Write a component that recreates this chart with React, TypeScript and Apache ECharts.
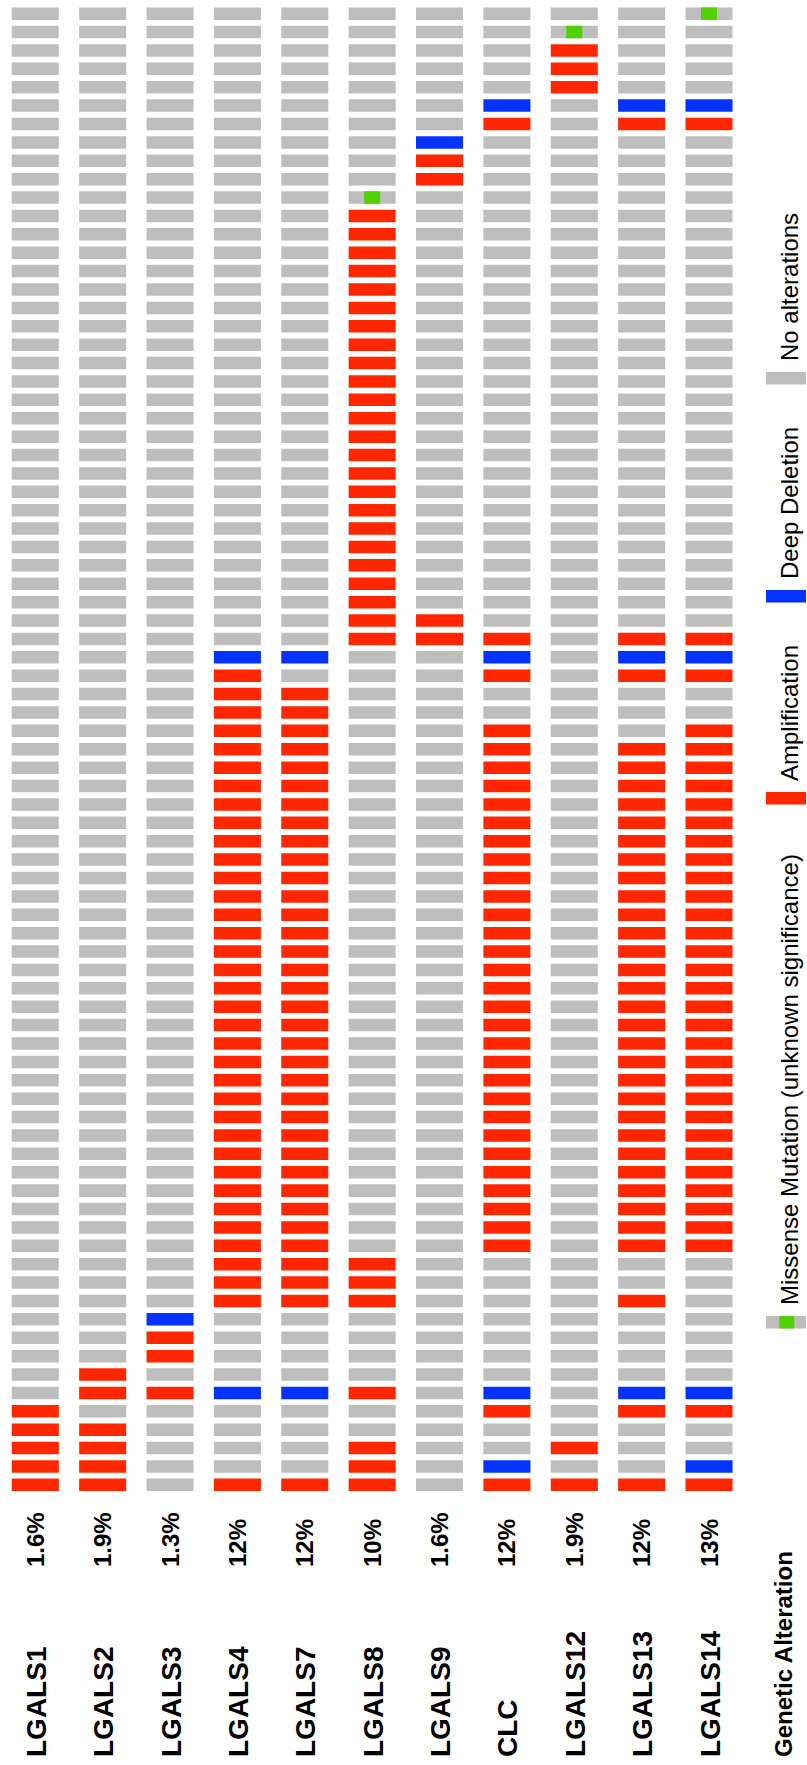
import React, { useEffect, useRef } from "react";
import * as echarts from "echarts";

// Genes (columns, left to right) and their altered-sample percentages
const genes = ["LGALS1", "LGALS2", "LGALS3", "LGALS4", "LGALS7", "LGALS8", "LGALS9", "CLC", "LGALS12", "LGALS13", "LGALS14"];
const alteredPct = ["1.6%", "1.9%", "1.3%", "12%", "12%", "10%", "1.6%", "12%", "1.9%", "12%", "13%"];

// One character per sample, top row first (groups of ten):
// "." no alteration, "A" amplification, "D" deep deletion, "M" missense mutation
const LGALS1 = ".......... .......... .......... .......... .......... .......... .......... ......AAAA A";
const LGALS2 = ".......... .......... .......... .......... .......... .......... .......... ....AA.AAA A";
const LGALS3 = ".......... .......... .......... .......... .......... .......... .......... .DAA.A.... .";
const LGALS4 = ".......... .......... .......... .....DAAAA AAAAAAAAAA AAAAAAAAAA AAAAAAAAAA A....D.... A";
const LGALS7 = ".......... .......... .......... .....D.AAA AAAAAAAAAA AAAAAAAAAA AAAAAAAAAA A....D.... A";
const LGALS8 = ".......... MAAAAAAAAA AAAAAAAAAA AAAAA..... .......... .......... ........AA A....A..AA A";
const LGALS9 = ".......DAA .......... .......... ...AA..... .......... .......... .......... .......... .";
const CLC = ".....DA... .......... .......... ....ADA..A AAAAAAAAAA AAAAAAAAAA AAAAAAAA.. .....DA..D A";
const LGALS12 = ".MAAA..... .......... .......... .......... .......... .......... .......... ........A. A";
const LGALS13 = ".....DA... .......... .......... ....ADA... AAAAAAAAAA AAAAAAAAAA AAAAAAAA.. A....DA... A";
const LGALS14 = "M....DA... .......... .......... ....ADA..A AAAAAAAAAA AAAAAAAAAA AAAAAAAA.. .....DA..D A";

const profiles = [LGALS1, LGALS2, LGALS3, LGALS4, LGALS7, LGALS8, LGALS9, CLC, LGALS12, LGALS13, LGALS14];

const legendLabels = ["Missense Mutation (unknown significance)", "Amplification", "Deep Deletion", "No alterations"];
const legendCodes = ["M", "A", "D", "."];

const GRAY = "#BEBEBE";
const RED = "#FF2600";
const BLUE = "#0433FF";
const GREEN = "#50D200";
const codeIndex: Record<string, number> = { ".": 0, A: 1, D: 2, M: 3 };
const codeFill = [GRAY, RED, BLUE, GRAY];
const FONT = "'Liberation Sans', Arial, Helvetica, sans-serif";

export default function App() {
  const ref = useRef<HTMLDivElement>(null);
  useEffect(() => {
    if (!ref.current) return;
    const chart = echarts.init(ref.current, null, { renderer: "svg" });
    const rows = profiles.map((p) => p.replace(/ /g, ""));
    const nSamples = rows[0].length;
    const data: number[][] = [];
    rows.forEach((r, gi) => {
      for (let j = 0; j < r.length; j++) data.push([gi, j, codeIndex[r[j]]]);
    });

    chart.setOption({
      animation: false,
      backgroundColor: "#ffffff",
      grid: { left: 1.6, width: 741.1, top: 4.46, height: 1489.6 },
      xAxis: { type: "category", data: genes, show: false },
      yAxis: { type: "value", min: -0.5, max: nSamples - 0.5, inverse: true, show: false },
      series: [
        {
          type: "custom",
          data,
          renderItem: (_params: any, api: any) => {
            const c = api.coord([api.value(0), api.value(1)]);
            const s = api.size([1, 1]);
            const w = s[0] * 0.698;
            const h = s[1] * 0.68;
            const code = api.value(2);
            const x = c[0] - w / 2;
            const y = c[1] - h / 2;
            const children: any[] = [
              { type: "rect", shape: { x, y, width: w, height: h }, style: { fill: codeFill[code] } },
            ];
            if (code === 3) {
              children.push({
                type: "rect",
                shape: { x: c[0] - w * 0.17, y, width: w * 0.34, height: h },
                style: { fill: GREEN },
              });
            }
            return { type: "group", children };
          },
        },
      ],
    });

    const graphics: any[] = [];
    genes.forEach((g, i) => {
      const px = chart.convertToPixel({ xAxisIndex: 0 }, g) as number;
      graphics.push({
        type: "text",
        x: px + 1,
        y: 1757,
        rotation: Math.PI / 2,
        style: { text: g, font: `bold 28px ${FONT}`, fill: "#000", textAlign: "left", textVerticalAlign: "middle" },
      });
      graphics.push({
        type: "text",
        x: px,
        y: 1567,
        rotation: Math.PI / 2,
        style: { text: alteredPct[i], font: `bold 24px ${FONT}`, fill: "#000", textAlign: "left", textVerticalAlign: "middle" },
      });
    });
    graphics.push({
      type: "text",
      x: 783,
      y: 1757,
      rotation: Math.PI / 2,
      style: { text: "Genetic Alteration", font: `bold 24px ${FONT}`, fill: "#000", textAlign: "left", textVerticalAlign: "middle" },
    });

    const swatchTops = [1316, 792, 590, 372];
    legendLabels.forEach((label, i) => {
      const top = swatchTops[i];
      const code = codeIndex[legendCodes[i]];
      graphics.push({ type: "rect", shape: { x: 766, y: top, width: 40, height: 12.5 }, style: { fill: codeFill[code] } });
      if (code === 3) {
        graphics.push({ type: "rect", shape: { x: 779.3, y: top, width: 15, height: 12.5 }, style: { fill: GREEN } });
      }
      graphics.push({
        type: "text",
        x: 789,
        y: top - 11,
        rotation: Math.PI / 2,
        style: { text: label, font: `24px ${FONT}`, fill: "#000", textAlign: "left", textVerticalAlign: "middle" },
      });
    });

    chart.setOption({ graphic: graphics });
    return () => chart.dispose();
  }, []);

  return (
    <div
      ref={ref}
      style={{ position: "absolute", left: 0, top: 0, width: 807, height: 1765, background: "#fff" }}
    />
  );
}
